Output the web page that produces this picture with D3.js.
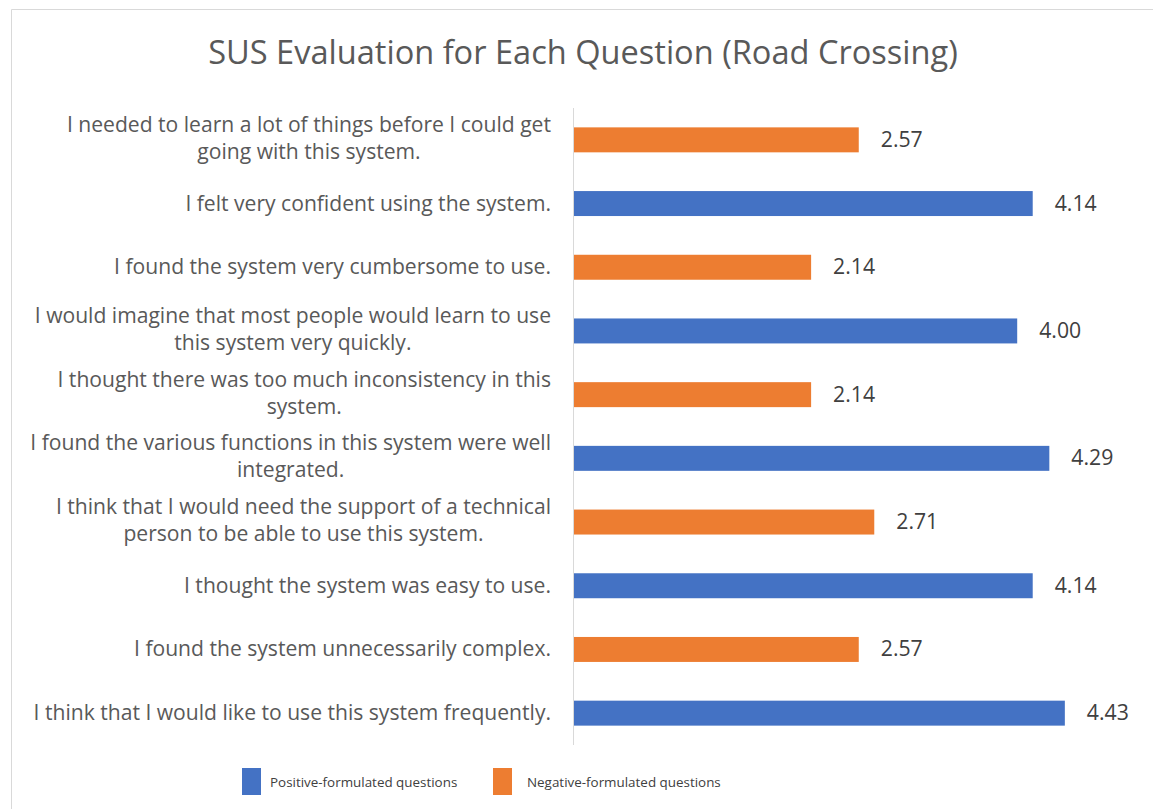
<!DOCTYPE html>
<html>
<head>
<meta charset="utf-8">
<script src="https://cdn.jsdelivr.net/npm/d3@7"></script>
<style>
  html, body { margin: 0; padding: 0; background: #fff; }
  svg { display: block; }
</style>
</head>
<body>
<svg id="chart" width="1153" height="809"></svg>
<script>
// Questions, top to bottom, each split into the lines shown on the axis
const questionLines = [
  ["I needed to learn a lot of things before I could get", "going with this system."],
  ["I felt very confident using the system."],
  ["I found the system very cumbersome to use."],
  ["I would imagine that most people would learn to use", "this system very quickly."],
  ["I thought there was too much inconsistency in this", "system."],
  ["I found the various functions in this system were well", "integrated."],
  ["I think that I would need the support of a technical", "person to be able to use this system."],
  ["I thought the system was easy to use."],
  ["I found the system unnecessarily complex."],
  ["I think that I would like to use this system frequently."]
];
const scores = [2.57, 4.14, 2.14, 4.00, 2.14, 4.29, 2.71, 4.14, 2.57, 4.43];
const questionType = ["neg", "pos", "neg", "pos", "neg", "pos", "neg", "pos", "neg", "pos"];
const seriesKeys = ["pos", "neg"];
const seriesNames = ["Positive-formulated questions", "Negative-formulated questions"];
const seriesColors = ["#4472C4", "#ED7D31"];
const titleText = "SUS Evaluation for Each Question (Road Crossing)";

const svg = d3.select("#chart");
const font = "'Open Sans', sans-serif";

// scale a text selection's font size so its widest member spans the given width
function fitWidth(sel, width) {
  const w = d3.max(sel.nodes(), n => n.getComputedTextLength());
  const size = parseFloat(sel.attr("font-size")) || 16;
  sel.attr("font-size", size * width / w);
}

// chart frame
svg.append("path")
  .attr("d", "M11.5,809 V9.5 H1153")
  .attr("fill", "none")
  .attr("stroke", "#d9d9d9")
  .attr("stroke-width", 1);

// title
const title = svg.append("text")
  .attr("x", 583)
  .attr("y", 64)
  .attr("text-anchor", "middle")
  .attr("font-family", font)
  .attr("font-size", 26)
  .attr("fill", "#595959")
  .text(titleText);
fitWidth(title, 750);

const x = d3.scaleLinear().domain([0, 5]).range([574, 1128]);
const y = d3.scaleBand()
  .domain(d3.range(scores.length))
  .range([108, 745])
  .paddingInner(0.608)
  .paddingOuter(0.304);
const color = d3.scaleOrdinal().domain(seriesKeys).range(seriesColors);

// vertical category axis line
svg.append("line")
  .attr("x1", 573.5).attr("x2", 573.5)
  .attr("y1", 108).attr("y2", 745)
  .attr("stroke", "#d9d9d9");

// bars
svg.append("g").selectAll("rect")
  .data(scores)
  .join("rect")
  .attr("x", x(0))
  .attr("y", (d, i) => y(i))
  .attr("width", d => x(d) - x(0))
  .attr("height", y.bandwidth())
  .attr("fill", (d, i) => color(questionType[i]));

// value labels
const values = svg.append("g").selectAll("text")
  .data(scores)
  .join("text")
  .attr("x", d => x(d) + 22)
  .attr("y", (d, i) => y(i) + y.bandwidth() / 2 + 7)
  .attr("font-family", font)
  .attr("font-size", 17)
  .attr("fill", "#404040")
  .text(d => d.toFixed(2));
fitWidth(values, 42);

// category labels: right-aligned block, lines centered within it
const labelRight = 551;
const labelG = svg.append("g")
  .attr("font-family", font)
  .attr("fill", "#595959");

const labelTexts = [];
questionLines.forEach((lines, i) => {
  const cy = y(i) + y.bandwidth() / 2;
  const g = labelG.append("g");
  const texts = lines.map((ln, k) => {
    const baseline = lines.length === 1 ? cy + 7 : cy - 8 + k * 27;
    const t = g.append("text").attr("y", baseline).attr("font-size", 17).text(ln);
    labelTexts.push(t.node());
    return t;
  });
  g.datum(texts);
});
fitWidth(d3.selectAll(labelTexts), 521);
labelG.selectAll("g").each(function (texts) {
  const blockW = d3.max(texts, t => t.node().getComputedTextLength());
  const center = labelRight - blockW / 2;
  texts.forEach(t => t.attr("x", center).attr("text-anchor", "middle"));
});

// legend
const legendItems = [
  { key: "pos", name: seriesNames[0], rx: 242, tx: 270 },
  { key: "neg", name: seriesNames[1], rx: 493, tx: 527 }
];
const lg = svg.append("g");
const legendTexts = [];
legendItems.forEach(it => {
  lg.append("rect")
    .attr("x", it.rx).attr("y", 768)
    .attr("width", 19).attr("height", 27)
    .attr("fill", color(it.key));
  legendTexts.push(lg.append("text")
    .attr("x", it.tx).attr("y", 787)
    .attr("font-family", font)
    .attr("font-size", 15)
    .attr("fill", "#404040")
    .text(it.name).node());
});
fitWidth(d3.selectAll(legendTexts), 194);
</script>
</body>
</html>
